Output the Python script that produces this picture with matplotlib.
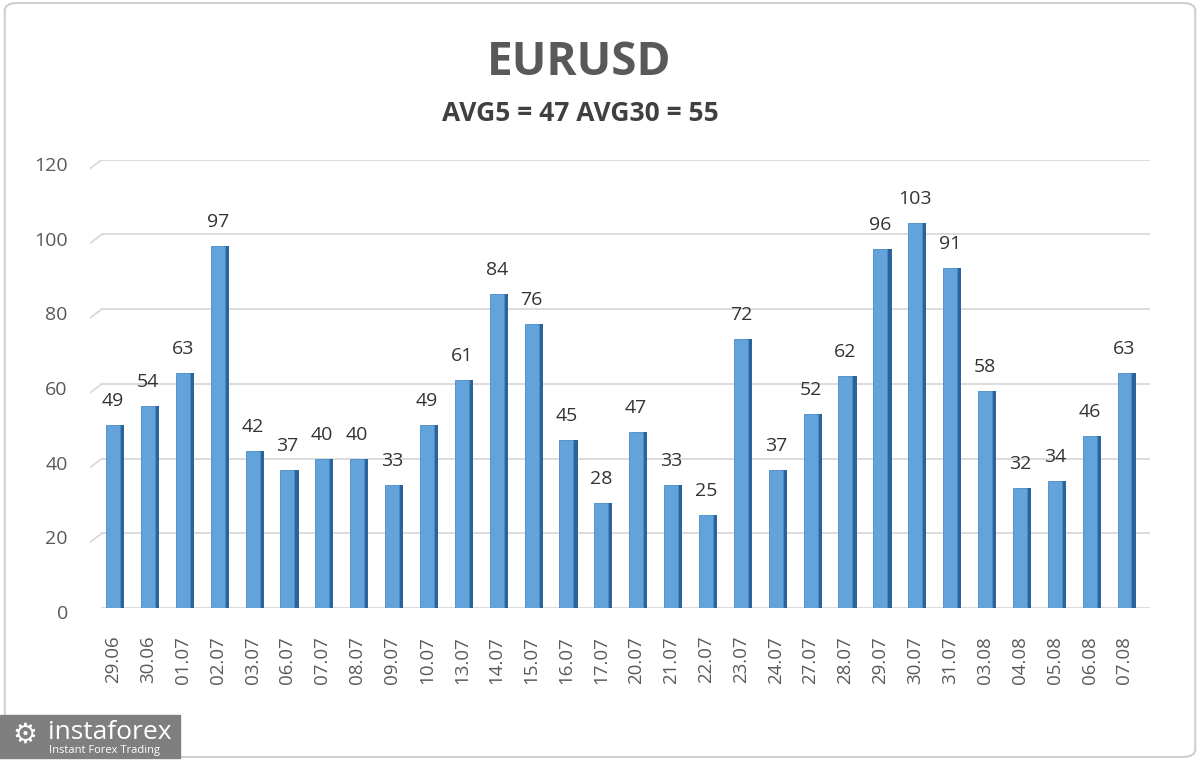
import matplotlib.pyplot as plt
import matplotlib.transforms as mtransforms
from matplotlib.patches import FancyBboxPatch, Rectangle
import numpy as np

dates = ["29.06", "30.06", "01.07", "02.07", "03.07", "06.07", "07.07", "08.07",
         "09.07", "10.07", "13.07", "14.07", "15.07", "16.07", "17.07", "20.07",
         "21.07", "22.07", "23.07", "24.07", "27.07", "28.07", "29.07", "30.07",
         "31.07", "03.08", "04.08", "05.08", "06.08", "07.08"]
values = [49, 54, 63, 97, 42, 37, 40, 40, 33, 49, 61, 84, 76, 45, 28, 47,
          33, 25, 72, 37, 52, 62, 96, 103, 91, 58, 32, 34, 46, 63]
yticks = [0, 20, 40, 60, 80, 100, 120]

plt.rcParams['font.family'] = ['Open Sans', 'DejaVu Sans']
grey = '#595959'

fig = plt.figure(figsize=(12, 7.6), dpi=100)
ax = fig.add_axes([0.075, 0.2, 0.883, 0.59])

x = np.arange(len(values))
w = 0.4
side = 0.13

# grid + slanted wall edge
for t in yticks:
    ax.plot([-0.32, 1e6], [t, t], color='#d9d9d9', lw=1.3, zorder=0)
    ax.plot([-0.66, -0.32], [t - 2.4, t], color='#d9d9d9', lw=1.3, zorder=0)

# side faces, then fronts
ax.bar(x + w / 2 + side / 2 - 0.01, [v + 0.9 for v in values], width=side,
       bottom=-0.9, color='#2c6399', zorder=2)
ax.bar(x, values, width=w, color='#63a3dc', edgecolor='#4a8bc6', lw=0.6, zorder=3)

for xi, v in zip(x, values):
    ax.text(xi, v + 4, str(v), ha='center', va='bottom', fontsize=14, color='#333333')

ax.set_xlim(-0.66, len(values) - 0.28)
ax.set_ylim(0, 120)
ax.set_yticks(yticks)
ax.set_xticks(x)
ax.set_xticklabels(dates, rotation=90, fontsize=13.5, color=grey)
ax.tick_params(axis='y', labelsize=14, labelcolor=grey, length=0, pad=16)
ax.tick_params(axis='x', length=0, pad=20)
for s in ax.spines.values():
    s.set_visible(False)

# labels sit near the front (lower) end of the slanted wall lines
shift = mtransforms.ScaledTranslation(0, -3 / 72, fig.dpi_scale_trans)
for lab in ax.get_yticklabels():
    lab.set_transform(lab.get_transform() + shift)

fig.text(0.483, 0.918, "EURUSD", ha='center', va='center', fontsize=33,
         fontweight='bold', color=grey)
fig.text(0.484, 0.851, "AVG5 = 47 AVG30 = 55", ha='center', va='center',
         fontsize=19, fontweight='bold', color='#404040')

# frame
fig.patches.append(FancyBboxPatch((0.004, 0.004), 0.992, 0.992,
                                  boxstyle="round,pad=0,rounding_size=0.01",
                                  transform=fig.transFigure, fill=False,
                                  edgecolor='#d0d0d0', lw=1.5))

# logo
fig.patches.append(Rectangle((0, 0.003), 0.15, 0.056, transform=fig.transFigure,
                             color='#7f7f7f', zorder=5))
fig.text(0.021, 0.034, "\u2699", fontsize=20, color='white', ha='center',
         va='center', zorder=6, family='DejaVu Sans')
fig.text(0.04, 0.036, "instaforex", fontsize=19, color='white', va='center', zorder=6)
fig.text(0.041, 0.013, "Instant Forex Trading", fontsize=8, color='white',
         va='center', zorder=6)

fig.savefig("out.png", dpi=100)
